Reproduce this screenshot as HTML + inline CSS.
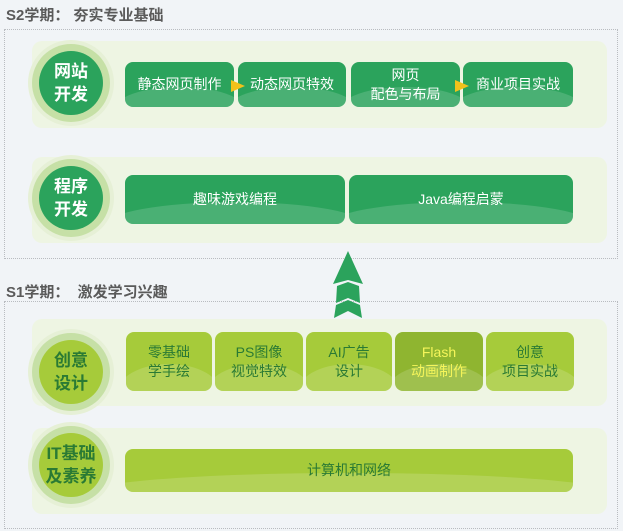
<!DOCTYPE html>
<html><head><meta charset="utf-8"><style>
*{margin:0;padding:0;box-sizing:border-box}
body{width:623px;height:531px;background:#f1f4f7;position:relative;overflow:hidden;font-family:"Liberation Sans","Noto Sans CJK SC",sans-serif}
.t{position:absolute;left:6px;font-size:15px;font-weight:bold;color:#5a5a5a;white-space:pre}
.dash{position:absolute;border:1.5px dotted #b9bcc0}
.panel{position:absolute;left:32px;width:575px;background:#eef5e3;border-radius:10px}
.halo{position:absolute;width:86px;height:86px;border-radius:50%;background:#e6f0d6}
.ring{position:absolute;left:4px;top:4px;width:78px;height:78px;border-radius:50%;background:#c6e0a6}
.core{position:absolute;left:11px;top:11px;width:64px;height:64px;border-radius:50%;display:flex;align-items:center;justify-content:center;text-align:center;font-size:17px;font-weight:bold;line-height:23px}
.g .core{background:#2ba35c;color:#fff}
.y .core{background:#a6cb3a;color:#2a7a34}
.b{position:absolute;border-radius:8px;display:flex;align-items:center;justify-content:center;text-align:center;font-size:14px;line-height:19px;overflow:hidden}
.b span{position:relative;z-index:2}
.b:after{content:"";position:absolute;left:-10%;width:120%;top:55%;height:100%;border-radius:50%;background:rgba(255,255,255,.15)}
.gb{background:#2ba35c;color:#fff}
.yb{background:#a6cb3a;color:#2a7a34}
.fb{background:#8fb530;color:#f5f55a}
.arr{position:absolute;width:0;height:0;border-top:6px solid transparent;border-bottom:6px solid transparent;border-left:14px solid #f1c21b;z-index:3}
</style></head><body>
<div class="t" style="top:4px">S2学期： 夯实专业基础</div>
<div class="dash" style="left:4px;top:29px;width:614px;height:230px"></div>
<div class="panel" style="top:41px;height:87px"></div>
<div class="panel" style="top:157px;height:86px"></div>
<div class="halo g" style="left:28px;top:40px"><div class="ring"></div><div class="core">网站<br>开发</div></div>
<div class="halo g" style="left:28px;top:155px"><div class="ring"></div><div class="core">程序<br>开发</div></div>
<div class="b gb" style="left:125px;top:62px;width:109px;height:45px"><span>静态网页制作</span></div>
<div class="b gb" style="left:238px;top:62px;width:108px;height:45px"><span>动态网页特效</span></div>
<div class="b gb" style="left:351px;top:62px;width:109px;height:45px"><span>网页<br>配色与布局</span></div>
<div class="b gb" style="left:463px;top:62px;width:110px;height:45px"><span>商业项目实战</span></div>
<div class="arr" style="left:231px;top:80px"></div>
<div class="arr" style="left:455px;top:80px"></div>
<div class="b gb" style="left:125px;top:175px;width:220px;height:49px"><span>趣味游戏编程</span></div>
<div class="b gb" style="left:349px;top:175px;width:224px;height:49px"><span>Java编程启蒙</span></div>

<div class="t" style="top:281px">S1学期：  激发学习兴趣</div>
<div class="dash" style="left:4px;top:301px;width:614px;height:228px"></div>
<div class="panel" style="top:319px;height:87px"></div>
<div class="panel" style="top:428px;height:86px"></div>
<div class="halo y" style="left:28px;top:329px"><div class="ring"></div><div class="core">创意<br>设计</div></div>
<div class="halo y" style="left:28px;top:422px"><div class="ring"></div><div class="core">IT基础<br>及素养</div></div>
<div class="b yb" style="left:126px;top:332px;width:86px;height:59px"><span>零基础<br>学手绘</span></div>
<div class="b yb" style="left:215px;top:332px;width:88px;height:59px"><span>PS图像<br>视觉特效</span></div>
<div class="b yb" style="left:306px;top:332px;width:86px;height:59px"><span>AI广告<br>设计</span></div>
<div class="b fb" style="left:395px;top:332px;width:88px;height:59px"><span>Flash<br>动画制作</span></div>
<div class="b yb" style="left:486px;top:332px;width:88px;height:59px"><span>创意<br>项目实战</span></div>
<div class="b yb" style="left:125px;top:449px;width:448px;height:43px"><span>计算机和网络</span></div>

<svg style="position:absolute;left:0;top:0" width="623" height="531">
<polygon points="348,251 363,284 348,280 333,284" fill="#2ba35c"/>
<polygon points="337,286 348,282 359,286 360,303 348,298 336,303" fill="#2ba35c"/>
<polygon points="336,305 348,300 360,305 362,318 348,311 334,318" fill="#2ba35c"/>
</svg>
</body></html>
